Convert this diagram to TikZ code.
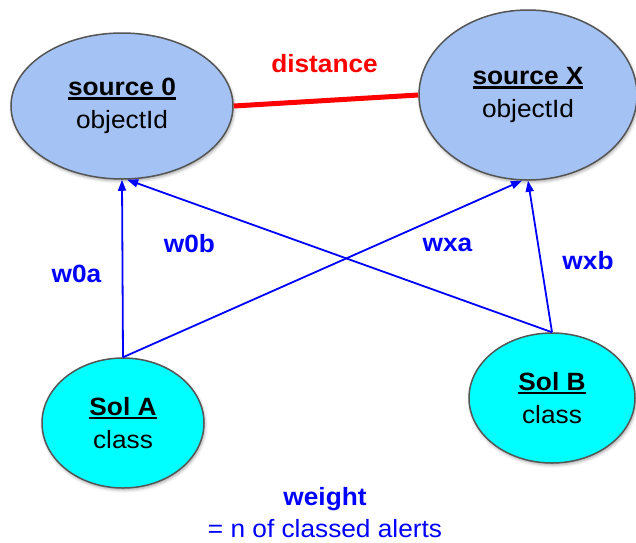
\documentclass[tikz,border=0pt]{standalone}
\usepackage{fontspec}
\setmainfont{Liberation Sans}[FakeStretch=1.05]
\usetikzlibrary{shapes.geometric,arrows.meta,shadows.blur}

\definecolor{srcfill}{RGB}{164,194,244}
\definecolor{solfill}{RGB}{0,255,255}
\definecolor{rimgray}{RGB}{85,85,85}

% thick underline placed just below the baseline
\newcommand\ulbox[1]{\setbox0\hbox{#1}\rlap{\rule[-4pt]{\wd0}{2.5pt}}\box0}

\begin{document}
\begin{tikzpicture}[x=1pt,y=-1pt,
  every node/.style={font=\fontsize{25}{33}\selectfont},
  entity/.style={ellipse, draw=rimgray, line width=1.5pt, inner sep=0pt, align=center,
    blur shadow={shadow xshift=1pt, shadow yshift=-2pt, shadow blur radius=3pt, shadow opacity=35}},
  source/.style={entity, fill=srcfill},
  sol/.style={entity, fill=solfill},
  weightedge/.style={draw=blue, line width=1.8pt, -{Triangle[length=11pt,width=8pt]}},
  wlabel/.style={anchor=base, text=blue, font=\fontsize{25}{33}\selectfont\bfseries},
]
\useasboundingbox (0,0) rectangle (636,542);

% sources
\node[source, minimum width=222pt, minimum height=146pt] (s0) at (122,106)
  {\textbf{\ulbox{source 0}}\\objectId};
\node[source, minimum width=218pt, minimum height=170pt] (sX) at (528,95)
  {\textbf{\ulbox{source X}}\\objectId};

% solutions
\node[sol, minimum width=162pt, minimum height=130pt] (solA) at (123,423)
  {\textbf{\ulbox{Sol A}}\\class};
\node[sol, minimum width=166pt, minimum height=130pt] (solB) at (552,398)
  {\textbf{\ulbox{Sol B}}\\class};

% distance between the sources
\draw[red, line width=5pt] (s0.east) -- (sX.west);
\node[wlabel, text=red] (dist) at (324.5,72) {distance};

% weighted links from solutions to sources
\draw[weightedge] (solA.north) -- (s0.south);
\draw[weightedge] (solA.north) -- (sX.-94);
\draw[weightedge] (solB.north) -- (s0.-86);
\draw[weightedge] (solB.north) -- (sX.south);

\node[wlabel] (w0a) at (76.5,282) {w0a};
\node[wlabel] (w0b) at (189.5,252) {w0b};
\node[wlabel] (wxa) at (447.5,251) {wxa};
\node[wlabel] (wxb) at (588,269) {wxb};

% legend
\node[wlabel] (wt) at (325,505) {weight};
\node[anchor=base, text=blue] (wtdef) at (325,537) {= n of classed alerts};
\end{tikzpicture}
\end{document}
